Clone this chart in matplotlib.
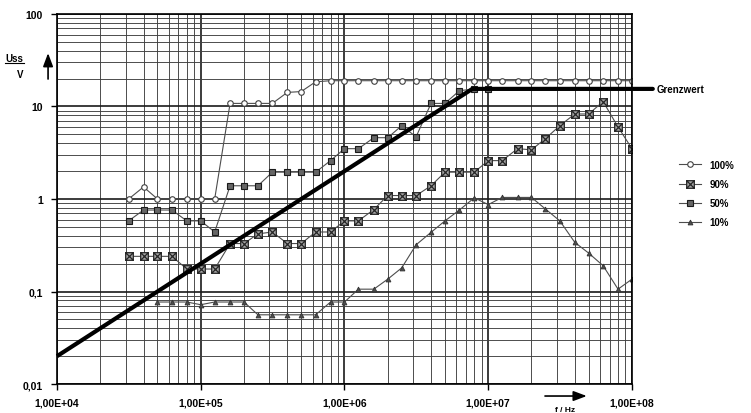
import numpy as np
import matplotlib.pyplot as plt
from matplotlib.path import Path
from matplotlib.lines import Line2D
from matplotlib.ticker import LogLocator

plt.rcParams['font.family'] = ['Liberation Sans', 'DejaVu Sans']
plt.rcParams['font.weight'] = 'bold'

# measurement frequencies in kHz (R10 steps)
freq_khz = [31.5, 40, 50, 63, 80, 100, 125, 160, 200, 250,
            315, 400, 500, 630, 800, 1000, 1250, 1600, 2000, 2500,
            3150, 4000, 5000, 6300, 8000, 10000, 12500, 16000, 20000, 25000,
            31500, 40000, 50000, 63000, 80000, 100000]

# Uss in V per modulation depth
u_100 = [1.0, 1.35, 1.0, 1.0, 1.0, 1.0, 1.0, 10.8, 10.8, 10.8,
         10.8, 14.2, 14.5, 18.5, 19, 19, 19, 19, 19, 19,
         19, 19, 19, 19, 19, 19, 19, 19, 19, 19,
         19, 19, 19, 19, 19, 19]
u_90 = [0.24, 0.24, 0.24, 0.24, 0.175, 0.175, 0.175, 0.33, 0.33, 0.42,
        0.44, 0.33, 0.33, 0.44, 0.44, 0.58, 0.58, 0.77, 1.09, 1.09,
        1.09, 1.39, 1.95, 1.95, 1.95, 2.6, 2.6, 3.5, 3.4, 4.5,
        6.2, 8.3, 8.3, 11.3, 6.0, 3.5]
u_50 = [0.58, 0.76, 0.76, 0.76, 0.58, 0.58, 0.44, 1.39, 1.39, 1.39,
        1.95, 1.95, 1.95, 1.95, 2.6, 3.5, 3.5, 4.6, 4.6, 6.2,
        4.7, 10.8, 10.8, 14.8, 15.5, 15.5]
u_10 = [0.077, 0.077, 0.077, 0.072, 0.077, 0.077, 0.077, 0.056, 0.056, 0.056,
        0.056, 0.056, 0.077, 0.077, 0.106, 0.106, 0.136, 0.18, 0.32, 0.436,
        0.58, 0.76, 1.03, 0.87, 1.04, 1.04, 1.04, 0.78, 0.58, 0.34,
        0.26, 0.19, 0.106, 0.136]

grenz_f = [1e4, 7.75e6, 1e8]
grenz_u = [0.02, 15.5, 15.5]

xticks = [1e4, 1e5, 1e6, 1e7, 1e8]
xtick_labels = ['1,00E+04', '1,00E+05', '1,00E+06', '1,00E+07', '1,00E+08']
yticks = [0.01, 0.1, 1, 10, 100]
ytick_labels = ['0,01', '0,1', '1', '10', '100']

f = np.array(freq_khz) * 1e3

# square with a cross inside
boxx = Path([(-1, -1), (1, -1), (1, 1), (-1, 1), (-1, -1),
             (-1, -1), (1, 1), (-1, 1), (1, -1)],
            [Path.MOVETO, Path.LINETO, Path.LINETO, Path.LINETO, Path.CLOSEPOLY,
             Path.MOVETO, Path.LINETO, Path.MOVETO, Path.LINETO])

fig = plt.figure(figsize=(7.51, 4.14), dpi=100)
ax = fig.add_axes([0.0759, 0.070, 0.7656, 0.8938])
ax.set_xscale('log')
ax.set_yscale('log')
ax.set_xlim(1e4, 1e8)
ax.set_ylim(0.01, 100)

ax.xaxis.set_minor_locator(LogLocator(base=10, subs=range(2, 10), numticks=50))
ax.yaxis.set_minor_locator(LogLocator(base=10, subs=range(2, 10), numticks=50))
ax.set_axisbelow(True)
ax.grid(which='major', color='0.1', lw=1.2)
ax.grid(which='minor', color='0.25', lw=0.65)

ax.set_xticks(xticks, xtick_labels)
ax.set_yticks(yticks, ytick_labels)
ax.tick_params(which='minor', length=0)
ax.tick_params(which='major', length=4, width=1, direction='out', labelsize=7.5, pad=6)
for s in ax.spines.values():
    s.set_linewidth(1.2)

lc = '0.3'
ax.plot(f, u_100, color=lc, lw=0.8, marker='o', ms=4, mfc='white', mec='0.25', mew=0.8, label='100%')
ax.plot(f, u_90, color=lc, lw=0.8, marker=boxx, ms=5.5, mfc='0.65', mec='0.15', mew=0.9, label='90%')
ax.plot(f[:len(u_50)], u_50, color=lc, lw=0.8, marker='s', ms=5, mfc='0.4', mec='0.1', mew=0.8, label='50%')
ax.plot(f[-len(u_10):], u_10, color=lc, lw=0.8, marker='^', ms=3.5, mfc='0.3', mec='0.2', mew=0.6, label='10%')

ax.plot(grenz_f, grenz_u, color='black', lw=3, solid_capstyle='butt', zorder=5, clip_on=False)
ax.annotate('Grenzwert', xy=(grenz_f[-1], grenz_u[-1]), xytext=(18, 0), textcoords='offset points',
            va='center', ha='left', fontsize=7,
            arrowprops=dict(arrowstyle='-', lw=3, color='black', shrinkA=1, shrinkB=0))

fig.legend(loc='center left', bbox_to_anchor=(0.898, 0.53), frameon=False, fontsize=7,
           handlelength=2.2, handletextpad=0.9, labelspacing=0.95, borderpad=0)

# y axis caption: Uss / V with arrow
fig.text(0.019, 0.858, 'Uss', fontsize=7, ha='center', va='center')
fig.add_artist(Line2D([0.006, 0.032], [0.845, 0.845], color='black', lw=0.8))
fig.text(0.027, 0.818, 'V', fontsize=7, ha='center', va='center')
ax.annotate('', xy=(0.064, 0.876), xytext=(0.064, 0.80), xycoords='figure fraction',
            arrowprops=dict(arrowstyle='-|>,head_length=0.8,head_width=0.3', lw=1.2, color='black'))

# x axis caption: arrow and f / Hz
ax.annotate('', xy=(0.785, 0.041), xytext=(0.722, 0.041), xycoords='figure fraction',
            arrowprops=dict(arrowstyle='-|>,head_length=0.8,head_width=0.3', lw=1.2, color='black'))
fig.text(0.752, 0.008, 'f / Hz', fontsize=6, ha='center', va='center')

fig.savefig('out.png', dpi=100)
